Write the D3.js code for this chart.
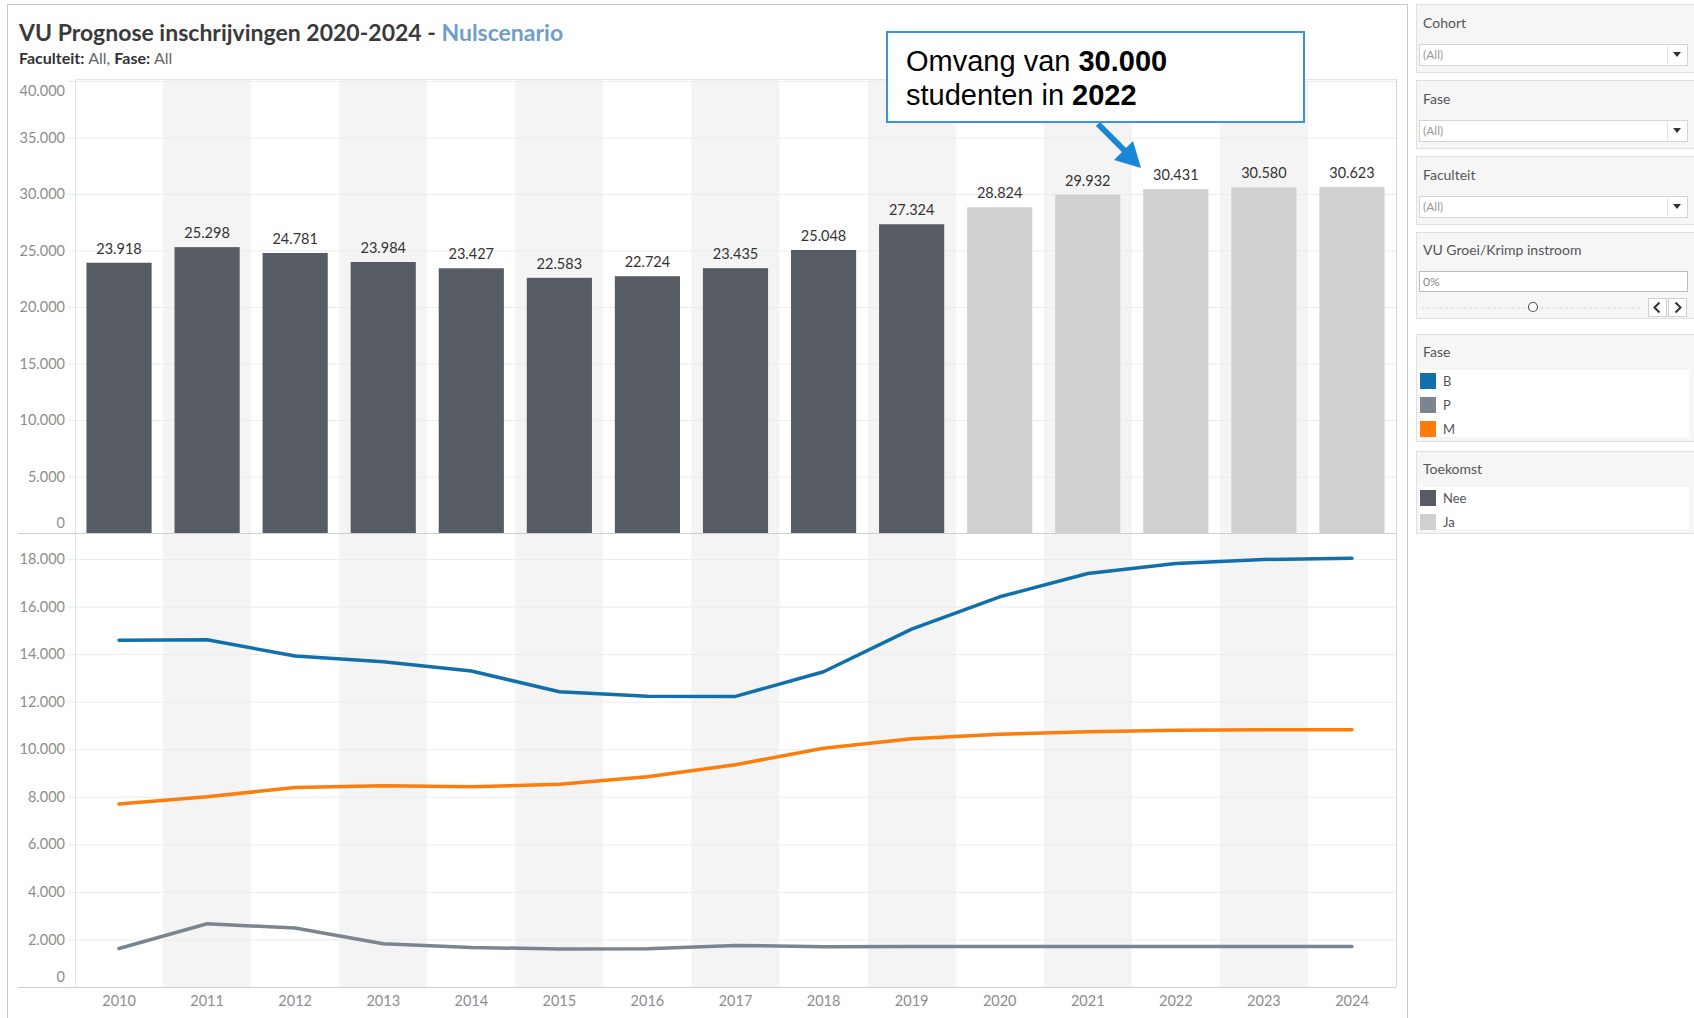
<!DOCTYPE html>
<html><head><meta charset="utf-8">
<script src="https://cdn.jsdelivr.net/npm/d3@7"></script>
<style>
body{margin:0;background:#fff;}
svg{display:block;font-family:Lato,"Open Sans",sans-serif;}
</style></head><body>
<svg id="c" width="1694" height="1018"></svg>
<script>
// ---------------- data ----------------
const years = ["2010","2011","2012","2013","2014","2015","2016","2017","2018","2019","2020","2021","2022","2023","2024"];
const totals = [23918,25298,24781,23984,23427,22583,22724,23435,25048,27324,28824,29932,30431,30580,30623];
const toekomst = ["Nee","Nee","Nee","Nee","Nee","Nee","Nee","Nee","Nee","Nee","Ja","Ja","Ja","Ja","Ja"];
const faseB = [14580,14600,13920,13680,13290,12420,12230,12220,13260,15050,16410,17390,17810,17980,18030];
const faseM = [7700,8000,8390,8460,8420,8530,8840,9350,10040,10440,10630,10740,10800,10820,10820];
const faseP = [1620,2660,2480,1820,1660,1600,1610,1750,1690,1700,1700,1700,1700,1700,1700];
const barTicks = [0,5000,10000,15000,20000,25000,30000,35000,40000];
const lineTicks = [0,2000,4000,6000,8000,10000,12000,14000,16000,18000];
const faseNames = ["B","P","M"];
const toekomstNames = ["Nee","Ja"];
const filterNames = ["Cohort","Fase","Faculteit"];

// ---------------- setup ----------------
const nl = d3.formatLocale({decimal:",",thousands:".",grouping:[3],currency:["€",""]});
const fmt = nl.format(",d");
const svg = d3.select("#c");
const FONT = "Lato,'Open Sans',sans-serif";
const faseColor = d3.scaleOrdinal().domain(faseNames).range(["#1170aa","#7b848f","#fc7d0b"]);
const tkColor = d3.scaleOrdinal().domain(toekomstNames).range(["#575c64","#d0d0d0"]);
const faseSeries = [{k:"B",v:faseB},{k:"M",v:faseM},{k:"P",v:faseP}];

const X0 = 75, X1 = 1396;
const x = d3.scaleBand().domain(years).range([X0,X1]).paddingInner(0.26).paddingOuter(0.13);
const xb = d3.scaleBand().domain(years).range([X0,X1]).padding(0);
const yBar = d3.scaleLinear().domain([0,40000]).range([533,81]);
const yLine = d3.scaleLinear().domain([0,18000]).range([987,559]);

// outer dashboard border
svg.append("rect").attr("x",7.5).attr("y",4.5).attr("width",1400).attr("height",1030)
  .attr("fill","#fff").attr("stroke","#c9c9c9");

// title
const t = svg.append("text").attr("x",19).attr("y",41).attr("font-size",23).attr("font-weight",700).attr("fill","#3a3a3a");
t.append("tspan").text("VU Prognose inschrijvingen 2020-2024 - ");
t.append("tspan").attr("fill","#6f9fc8").text("Nulscenario");
const st = svg.append("text").attr("x",19).attr("y",64).attr("font-size",16);
st.append("tspan").attr("font-weight",700).attr("fill","#333").text("Faculteit: ");
st.append("tspan").attr("fill","#666").text("All, ");
st.append("tspan").attr("font-weight",700).attr("fill","#333").text("Fase: ");
st.append("tspan").attr("fill","#666").text("All");

// band shading
svg.append("g").selectAll("rect").data(years.filter((d,i)=>i%2===1)).join("rect")
  .attr("x",d=>xb(d)).attr("width",xb.bandwidth()).attr("y",79).attr("height",987-79)
  .attr("fill","#f4f4f4");

// gridlines
svg.append("g").selectAll("line").data(barTicks.slice(1)).join("line")
  .attr("x1",68).attr("x2",X1).attr("y1",d=>yBar(d)+0.5).attr("y2",d=>yBar(d)+0.5)
  .attr("stroke","#ececec");
svg.append("g").selectAll("line").data(lineTicks.slice(1)).join("line")
  .attr("x1",68).attr("x2",X1).attr("y1",d=>yLine(d)+0.5).attr("y2",d=>yLine(d)+0.5)
  .attr("stroke","#ececec");

// frame lines
svg.append("line").attr("x1",X0+0.5).attr("x2",X0+0.5).attr("y1",79).attr("y2",987).attr("stroke","#e4e4e4");
svg.append("line").attr("x1",X1+0.5).attr("x2",X1+0.5).attr("y1",79).attr("y2",987).attr("stroke","#d6d6d6");
svg.append("line").attr("x1",X0).attr("x2",X1).attr("y1",79.5).attr("y2",79.5).attr("stroke","#e4e4e4");

// bars
svg.append("g").selectAll("rect").data(years).join("rect")
  .attr("x",d=>x(d)).attr("width",x.bandwidth())
  .attr("y",(d,i)=>yBar(totals[i])).attr("height",(d,i)=>yBar(0)-yBar(totals[i]))
  .attr("fill",(d,i)=>tkColor(toekomst[i]));
svg.append("g").selectAll("text").data(years).join("text")
  .attr("x",d=>x(d)+x.bandwidth()/2).attr("y",(d,i)=>yBar(totals[i])-9)
  .attr("text-anchor","middle").attr("font-size",14.5).attr("fill","#333")
  .text((d,i)=>fmt(totals[i]));

// separators
svg.append("line").attr("x1",18).attr("x2",X1).attr("y1",533.5).attr("y2",533.5).attr("stroke","#cfcfcf");
svg.append("line").attr("x1",18).attr("x2",X1).attr("y1",987.5).attr("y2",987.5).attr("stroke","#cfcfcf");

// y axes
function styleAxis(g, topVal){
  g.select(".domain").remove();
  g.selectAll("text").attr("font-size",14.5).attr("fill","#8d8d8d").attr("font-family",FONT);
  g.selectAll(".tick").filter(d=>d===0).select("text").attr("dy","-0.35em");
  if(topVal!==undefined) g.selectAll(".tick").filter(d=>d===topVal).select("text").attr("dy","1.0em");
}
svg.append("g").attr("transform","translate(65,0)")
  .call(d3.axisLeft(yBar).tickValues(barTicks).tickSize(0).tickPadding(0).tickFormat(fmt))
  .call(g=>styleAxis(g,40000));
svg.append("g").attr("transform","translate(65,0)")
  .call(d3.axisLeft(yLine).tickValues(lineTicks).tickSize(0).tickPadding(0).tickFormat(fmt))
  .call(g=>styleAxis(g));

// x axis
svg.append("g").attr("transform","translate(0,988)")
  .call(d3.axisBottom(x).tickSize(0).tickPadding(8))
  .call(g=>{g.select(".domain").remove();
    g.selectAll("text").attr("font-size",14.5).attr("fill","#8d8d8d").attr("font-family",FONT);});

// lines
const line = d3.line().x((d,i)=>x(years[i])+x.bandwidth()/2).y(d=>yLine(d));
svg.append("g").selectAll("path").data(faseSeries).join("path")
  .attr("d",d=>line(d.v)).attr("fill","none").attr("stroke",d=>faseColor(d.k))
  .attr("stroke-width",3.5).attr("stroke-linejoin","round").attr("stroke-linecap","round");

// annotation
const ann = svg.append("g").attr("font-family","'Liberation Sans',Arial,sans-serif");
ann.append("rect").attr("x",887).attr("y",32).attr("width",417).attr("height",90)
  .attr("fill","#fff").attr("stroke","#3b93dc").attr("stroke-width",2);
const a1 = ann.append("text").attr("x",906).attr("y",71).attr("font-size",29).attr("fill","#000");
a1.append("tspan").text("Omvang van ");
a1.append("tspan").attr("font-weight",700).text("30.000");
const a2 = ann.append("text").attr("x",906).attr("y",105).attr("font-size",29).attr("fill","#000");
a2.append("tspan").text("studenten in ");
a2.append("tspan").attr("font-weight",700).text("2022");
ann.append("line").attr("x1",1098).attr("y1",124).attr("x2",1126).attr("y2",152)
  .attr("stroke","#1a87d5").attr("stroke-width",6);
ann.append("path").attr("d","M1141,168 L1114,160 L1133,141 Z").attr("fill","#1a87d5");

// ---------------- right panel ----------------
const P0 = 1416, PW = 278;
const rp = svg.append("g").attr("font-family",FONT);
function panel(y, h){
  rp.append("rect").attr("x",P0+0.5).attr("y",y+0.5).attr("width",PW).attr("height",h)
    .attr("fill","#f6f6f6").attr("stroke","#e0e0e0");
}
function ptitle(y, s){
  rp.append("text").attr("x",P0+7).attr("y",y).attr("dy","0.35em").attr("font-size",14).attr("fill","#555").text(s);
}
const filterY = [4, 80, 156];
filterNames.forEach((n,i)=>{
  const y0 = filterY[i];
  panel(y0, 68);
  ptitle(y0+19, n);
  rp.append("rect").attr("x",P0+3.5).attr("y",y0+40.5).attr("width",268).attr("height",21)
    .attr("fill","#fff").attr("stroke","#d4d4d4");
  rp.append("line").attr("x1",P0+251.5).attr("x2",P0+251.5).attr("y1",y0+42).attr("y2",y0+60).attr("stroke","#e2e2e2");
  rp.append("text").attr("x",P0+7).attr("y",y0+51).attr("dy","0.35em").attr("font-size",12).attr("fill","#999").text("(All)");
  rp.append("path").attr("d",`M${P0+257},${y0+48} h8 l-4,5 z`).attr("fill","#333");
});
// slider panel
panel(232, 86);
ptitle(250, "VU Groei/Krimp instroom");
rp.append("rect").attr("x",P0+3.5).attr("y",271.5).attr("width",268).attr("height",20)
  .attr("fill","#fff").attr("stroke","#bdbdbd");
rp.append("text").attr("x",P0+7).attr("y",282).attr("dy","0.35em").attr("font-size",12).attr("fill","#888").text("0%");
rp.append("line").attr("x1",P0+6).attr("x2",P0+225).attr("y1",307.5).attr("y2",307.5)
  .attr("stroke","#c8c8c8").attr("stroke-dasharray","1,5");
rp.append("line").attr("x1",P0+6).attr("x2",P0+225).attr("y1",308.5).attr("y2",308.5).attr("stroke","#ececec");
rp.append("circle").attr("cx",P0+117).attr("cy",307).attr("r",4.5).attr("fill","#fff").attr("stroke","#555").attr("stroke-width",1.2);
[[-1,P0+232],[1,P0+252]].forEach(([dir,bx])=>{
  rp.append("rect").attr("x",bx+0.5).attr("y",298.5).attr("width",18).attr("height",18).attr("fill","#fff").attr("stroke","#d0d0d0");
  const cx = bx+9.5, cy = 307.5;
  rp.append("path").attr("d",`M${cx-2*dir},${cy-5} L${cx+3*dir},${cy} L${cx-2*dir},${cy+5}`)
    .attr("fill","none").attr("stroke","#333").attr("stroke-width",2);
});
// legends
function legend(y0, h, title, names, color){
  panel(y0, h);
  ptitle(y0+18, title);
  rp.append("rect").attr("x",P0+3).attr("y",y0+36).attr("width",270).attr("height",h-40).attr("fill","#fff");
  names.forEach((n,i)=>{
    const cy = y0+47+i*24;
    rp.append("rect").attr("x",P0+4).attr("y",cy-8).attr("width",16).attr("height",16).attr("fill",color(n));
    rp.append("text").attr("x",P0+27).attr("y",cy).attr("dy","0.35em").attr("font-size",13).attr("fill","#555").text(n);
  });
}
legend(334, 107, "Fase", faseNames, faseColor);
legend(451, 82, "Toekomst", toekomstNames, tkColor);
</script></body></html>
